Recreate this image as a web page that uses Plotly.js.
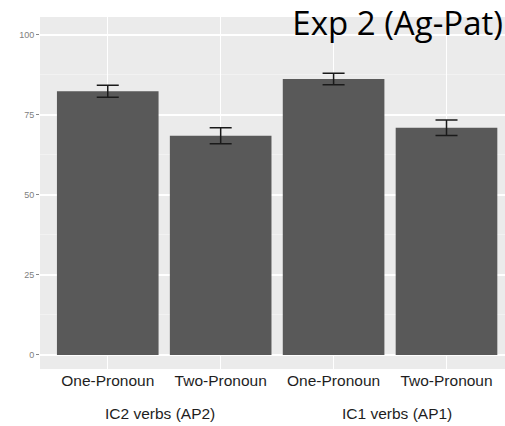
<!DOCTYPE html>
<html>
<head>
<meta charset="utf-8">
<script src="https://cdn.plot.ly/plotly-3.0.1.min.js"></script>
<style>html,body{margin:0;padding:0;background:#fff;}#chart{width:505px;height:426px;}</style>
</head>
<body>
<div id="chart"></div>
<script>
const categories = ["One-Pronoun", "Two-Pronoun", "One-Pronoun", "Two-Pronoun"];
const groups = ["IC2 verbs (AP2)", "IC1 verbs (AP1)"];
const values = [82.4, 68.5, 86.2, 71.0];
const errors = [1.9, 2.5, 1.8, 2.4];
const yTicks = [0, 25, 50, 75, 100];

const xIdx = categories.map((_, i) => i);

const trace = {
  type: 'bar',
  x: xIdx,
  y: values,
  width: 0.9,
  marker: {color: '#595959', line: {width: 0}},
  error_y: {type: 'data', array: errors, visible: true, color: '#1a1a1a', thickness: 1.5, width: 11},
  hoverinfo: 'skip'
};

const layout = {
  width: 505, height: 426,
  margin: {l: 40, r: 0, t: 17, b: 57},
  paper_bgcolor: '#ffffff',
  plot_bgcolor: '#EBEBEB',
  showlegend: false,
  bargap: 0.1,
  title: {
    text: 'Exp 2 (Ag-Pat)',
    font: {family: 'Open Sans', size: 33, color: '#000000'},
    xref: 'container', yref: 'container',
    x: 0.996, xanchor: 'right',
    y: 0.945, yanchor: 'middle'
  },
  xaxis: {
    range: [-0.6, 3.518],
    tickvals: xIdx,
    ticktext: categories,
    showgrid: true, gridcolor: '#ffffff', gridwidth: 1.2,
    zeroline: false,
    ticks: '', ticklen: 0,
    tickfont: {family: 'Liberation Sans, Arial', size: 15.5, color: '#1e1e1e'},
    showline: false,
    fixedrange: true
  },
  yaxis: {
    range: [-4.4, 105.6],
    tickvals: yTicks,
    ticktext: yTicks.map(String),
    showgrid: true, gridcolor: '#ffffff', gridwidth: 1.2,
    minor: {tickvals: [12.5, 37.5, 62.5, 87.5], showgrid: true, gridcolor: '#f6f6f6', gridwidth: 0.6, ticks: ''},
    zeroline: false,
    ticks: 'outside', ticklen: 3, tickcolor: '#888888', tickwidth: 1,
    tickfont: {family: 'Liberation Sans, Arial', size: 9, color: '#808080'},
    showline: false,
    fixedrange: true
  },
  annotations: [
    {text: groups[0], xref: 'x', yref: 'paper', x: 0.465, y: 0, yshift: -44, yanchor: 'middle', showarrow: false,
     font: {family: 'Liberation Sans, Arial', size: 15.5, color: '#1e1e1e'}},
    {text: groups[1], xref: 'x', yref: 'paper', x: 2.56, y: 0, yshift: -44, yanchor: 'middle', showarrow: false,
     font: {family: 'Liberation Sans, Arial', size: 15.5, color: '#1e1e1e'}}
  ]
};

Plotly.newPlot('chart', [trace], layout, {displayModeBar: false, staticPlot: true});
</script>
</body>
</html>
